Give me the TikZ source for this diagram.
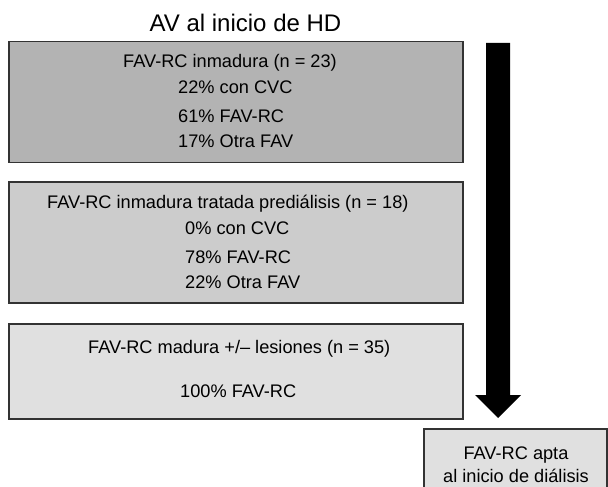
\documentclass[tikz,border=0pt]{standalone}
\usepackage{fontspec}
\setmainfont{Liberation Sans}
\definecolor{boxline}{HTML}{333333}
\definecolor{fillA}{HTML}{B3B3B3}
\definecolor{fillB}{HTML}{CCCCCC}
\definecolor{fillC}{HTML}{E0E0E0}
\begin{document}
\begin{tikzpicture}[x=1pt, y=-1pt,
  panel/.style={draw=boxline, line width=1.3pt, inner sep=0pt},
  line/.style={inner sep=0pt, anchor=base west, font=\fontsize{18.2}{21}\selectfont},
  cline/.style={inner sep=0pt, anchor=base, font=\fontsize{18.2}{21}\selectfont},
  bigarrow/.style={fill=black}]
\useasboundingbox (0,0) rectangle (608,487);
\clip (0,0) rectangle (608,487);

% heading
\node[inner sep=0pt, anchor=base, font=\fontsize{24}{28}\selectfont] (title) at (245.5,32) {AV al inicio de HD};

% three stacked panels
\node[panel, fill=fillA, minimum width=454pt, minimum height=121pt] (b1) at (236,102) {};
\node[panel, fill=fillB, minimum width=454pt, minimum height=121pt] (b2) at (236,242.5) {};
\node[panel, fill=fillC, minimum width=454pt, minimum height=95pt] (b3) at (236,371.5) {};

% target panel, running off the lower edge
\node[panel, fill=fillC, minimum width=183pt, minimum height=80pt] (fin) at (515.5,469) {};

% panel texts
\node[line] (t11) at (123,67) {FAV-RC inmadura (n = 23)};
\node[line] (t12) at (178,93) {22\% con CVC};
\node[line] (t13) at (178,122) {61\% FAV-RC};
\node[line] (t14) at (178,147) {17\% Otra FAV};

\node[line] (t21) at (47,208) {FAV-RC inmadura tratada prediálisis (n = 18)};
\node[line] (t22) at (185,234) {0\% con CVC};
\node[line] (t23) at (185,263) {78\% FAV-RC};
\node[line] (t24) at (185,288) {22\% Otra FAV};

\node[line] (t31) at (88,353) {FAV-RC madura +/– lesiones (n = 35)};
\node[line] (t32) at (180,397) {100\% FAV-RC};

\node[cline] (f1) at (516,459) {FAV-RC apta};
\node[cline] (f2) at (516,482) {al inicio de diálisis};

% thick downward arrow
\coordinate (atop) at (498,43);
\coordinate (atip) at (498,418);
\fill[bigarrow] (atop) ++(-12,0) -- ++(24,0) -- ++(0,352) -- ++(11,0) -- (atip)
  -- ++(-23,-23) -- ++(11,0) -- cycle;
\end{tikzpicture}
\end{document}
